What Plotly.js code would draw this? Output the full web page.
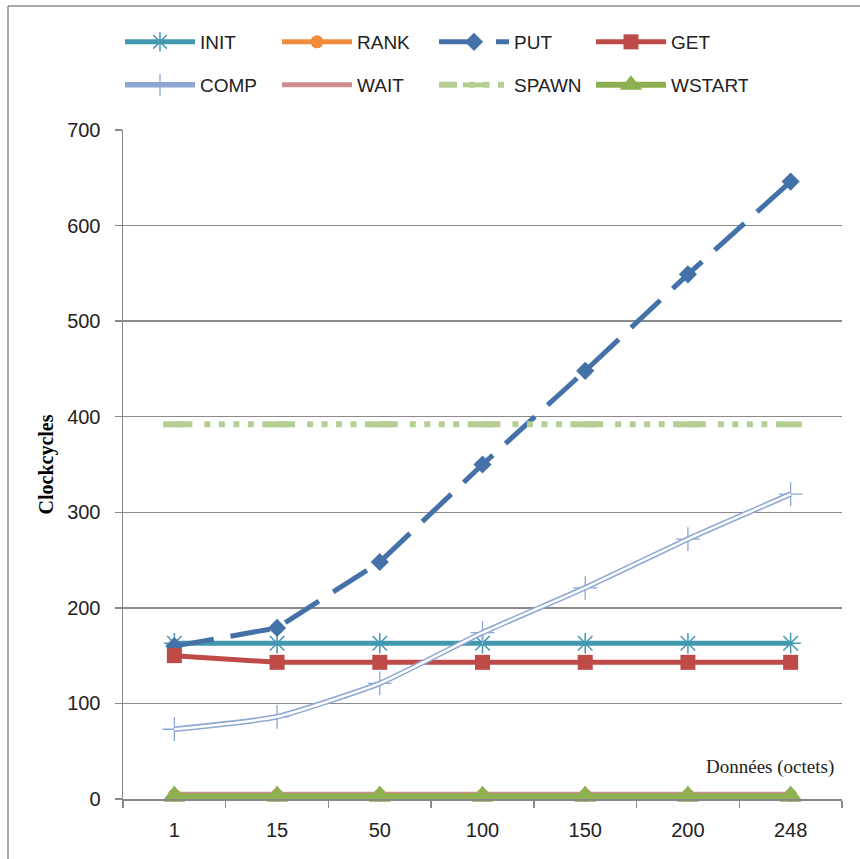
<!DOCTYPE html>
<html>
<head>
<meta charset="utf-8">
<script src="https://cdn.plot.ly/plotly-3.0.1.min.js"></script>
<style>html,body{margin:0;padding:0;background:#fff;}#chart{width:860px;height:859px;}</style>
</head>
<body>
<div id="chart"></div>
<script>
const categories = ["1", "15", "50", "100", "150", "200", "248"];
const initVals   = [163, 163, 163, 163, 163, 163, 163];
const rankVals   = [4, 4, 4, 4, 4, 4, 4];
const putVals    = [160, 179, 248, 350, 448, 549, 646];
const getVals    = [150, 143, 143, 143, 143, 143, 143];
const compVals   = [73, 86, 121, 174, 221, 272, 319];
const waitVals   = [5, 5, 5, 5, 5, 5, 5];
const spawnVals  = [392, 392, 392, 392, 392, 392, 392];
const wstartVals = [3, 3, 3, 3, 3, 3, 3];
const yTickVals  = [0, 100, 200, 300, 400, 500, 600, 700];

const traces = [
  {name: "INIT", x: categories, y: initVals, mode: "lines+markers", legend: "legend",
   line: {color: "#4198AF", width: 5},
   marker: {symbol: "asterisk-open", size: 17, color: "#4198AF", line: {color: "#4198AF", width: 1.5}}},
  {name: "RANK", x: categories, y: rankVals, mode: "lines+markers", legend: "legend", cliponaxis: false,
   line: {color: "#F08C3C", width: 5},
   marker: {symbol: "circle", size: 13, color: "#F08C3C"}},
  {name: "PUT", x: categories, y: putVals, mode: "lines+markers", legend: "legend",
   line: {color: "#4472A8", width: 5, dash: "40px,17px"},
   marker: {symbol: "diamond", size: 14, color: "#4472A8"}},
  {name: "GET", x: categories, y: getVals, mode: "lines+markers", legend: "legend",
   line: {color: "#BE4B48", width: 5},
   marker: {symbol: "square", size: 15, color: "#BE4B48"}},
  {name: "COMP", x: categories, y: compVals, mode: "lines+markers", legend: "legend2",
   line: {color: "#8DA6D4", width: 5.5, shape: "spline", smoothing: 0.5},
   marker: {symbol: "cross-thin-open", size: 17, color: "#8DA6D4", line: {color: "#8DA6D4", width: 1.3}}},
  {name: "COMP", x: categories, y: compVals, mode: "lines", legend: "legend2", showlegend: false,
   line: {color: "#ffffff", width: 2.5, shape: "spline", smoothing: 0.5}, hoverinfo: "skip"},
  {name: "WAIT", x: categories, y: waitVals, mode: "lines", legend: "legend2", cliponaxis: false,
   line: {color: "#D08E8C", width: 5}},
  {name: "SPAWN", x: categories, y: spawnVals, mode: "lines+markers", legend: "legend2",
   line: {color: "#B5CE93", width: 6, dash: "18px,12px,6px,8.5px,6px,8.5px,6px,8.5px,6px,8.5px,6px,8.7px"},
   marker: {symbol: "line-ew-open", size: 16, color: "#B5CE93", line: {color: "#B5CE93", width: 6}}},
  {name: "WSTART", x: categories, y: wstartVals, mode: "lines+markers", legend: "legend2", cliponaxis: false,
   line: {color: "#8DB050", width: 6},
   marker: {symbol: "triangle-up", size: 18, color: "#8DB050", line: {color: "#8DB050", width: 2}}}
];

const L = 123, R = 18, T = 130, B = 60, W = 860, H = 859;
const pw = W - L - R, ph = H - T - B;
const px = v => (v - L) / pw;
const py = v => (H - B - v) / ph;

const legendBase = {
  orientation: "h", xanchor: "left", yanchor: "middle",
  entrywidth: 72, entrywidthmode: "pixels", itemwidth: 70,
  font: {family: "Liberation Sans, Arial, sans-serif", size: 19, color: "#222"},
  bgcolor: "rgba(0,0,0,0)", borderwidth: 0, traceorder: "normal", itemclick: false, itemdoubleclick: false
};

const layout = {
  width: W, height: H,
  margin: {l: L, r: R, t: T, b: B, pad: 0},
  paper_bgcolor: "#ffffff", plot_bgcolor: "#ffffff",
  showlegend: true,
  legend: Object.assign({}, legendBase, {x: px(120), y: py(42)}),
  legend2: Object.assign({}, legendBase, {x: px(120), y: py(85)}),
  xaxis: {
    type: "category", range: [-0.5, 6.5], fixedrange: true,
    showgrid: false, zeroline: false,
    showline: true, linecolor: "#888", linewidth: 1.5,
    ticks: "outside", tickson: "boundaries", ticklen: 7, tickcolor: "#888", tickwidth: 1.5,
    tickfont: {family: "Liberation Sans, Arial, sans-serif", size: 20, color: "#222"},
    ticklabelstandoff: 12
  },
  yaxis: {
    range: [0, 700], fixedrange: true,
    tickvals: yTickVals, ticktext: yTickVals.map(String),
    showgrid: true, gridcolor: "#8a8a8a", gridwidth: 1.5, zeroline: false,
    showline: true, linecolor: "#888", linewidth: 1.5,
    ticks: "outside", ticklen: 7, tickcolor: "#888", tickwidth: 1.5,
    tickfont: {family: "Liberation Sans, Arial, sans-serif", size: 20, color: "#222"},
    ticklabelstandoff: 10,
    title: {text: "<b>Clockcycles</b>", standoff: 8,
            font: {family: "Liberation Serif, Times New Roman, serif", size: 20, color: "#000"}}
  },
  annotations: [{
    text: "Données (octets)", xref: "paper", yref: "paper",
    x: px(836), y: py(767), xanchor: "right", yanchor: "middle", showarrow: false,
    font: {family: "Liberation Serif, Times New Roman, serif", size: 19, color: "#222"}
  }],
  shapes: [
    {type: "line", xref: "paper", yref: "paper", x0: px(8), x1: px(8), y0: py(6), y1: py(862),
     line: {color: "#8c8c8c", width: 1.5}},
    {type: "line", xref: "paper", yref: "paper", x0: px(8), x1: px(862), y0: py(6), y1: py(6),
     line: {color: "#8c8c8c", width: 1.5}}
  ]
};

Plotly.newPlot("chart", traces, layout, {displayModeBar: false, staticPlot: true});
</script>
</body>
</html>
